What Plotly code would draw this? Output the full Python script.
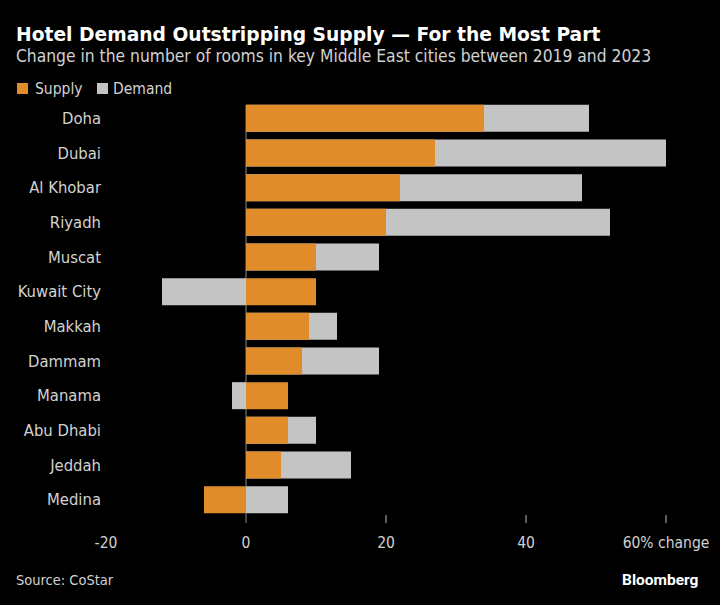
import plotly.graph_objects as go

cities = ["Doha", "Dubai", "Al Khobar", "Riyadh", "Muscat", "Kuwait City", "Makkah",
          "Dammam", "Manama", "Abu Dhabi", "Jeddah", "Medina"]
supply = [34, 27, 22, 20, 10, 10, 9, 8, 6, 6, 5, -6]
demand = [49, 60, 48, 52, 19, -12, 13, 19, -2, 10, 15, 6]
tick_vals = [-20, 0, 20, 40, 60]
tick_text = ["-20", "0", "20", "40", "60% change"]
tick_marks = [20, 40, 60]

ORANGE = "#E08C2B"
GRAY = "#C4C4C4"
FONT = "DejaVu Sans Condensed, Liberation Sans Narrow, sans-serif"
TXT = "#D2D2D2"

L, R, T, B = 106, 12, 101, 88
W, H = 720, 605
PW, PH = W - L - R, H - T - B


def px(x):
    return (x - L) / PW


def py(y):
    return (H - B - y) / PH


fig = go.Figure()
fig.add_trace(go.Bar(y=cities, x=demand, orientation="h", name="Demand",
                     marker=dict(color=GRAY, line=dict(width=0))))
fig.add_trace(go.Bar(y=cities, x=supply, orientation="h", name="Supply",
                     marker=dict(color=ORANGE, line=dict(width=0))))

# zero line (behind the bars, extends below as the 0 tick)
fig.add_shape(type="line", xref="x", yref="paper", x0=0, x1=0, y0=py(105), y1=py(523),
              line=dict(color="#8A8A8A", width=1), layer="below")
for t in tick_marks:
    fig.add_shape(type="line", xref="x", yref="paper", x0=t, x1=t, y0=py(515), y1=py(523),
                  line=dict(color="#BBBBBB", width=1))

fig.update_layout(
    width=W, height=H,
    paper_bgcolor="black", plot_bgcolor="black",
    barmode="overlay", bargap=0.22,
    margin=dict(l=L, r=R, t=T, b=B, autoexpand=False),
    font=dict(family=FONT, color=TXT, size=15),
    showlegend=False,
    xaxis=dict(range=[-20, 66], tickvals=tick_vals, ticktext=tick_text, ticks="",
               showgrid=False, zeroline=False,
               showline=False, tickfont=dict(size=15.5, color=TXT), ticklabelstandoff=14,
               fixedrange=True),
    yaxis=dict(categoryorder="array", categoryarray=cities, autorange="reversed",
               showgrid=False, zeroline=False, showline=False, ticks="",
               tickfont=dict(size=16.5, color=TXT), ticklabelstandoff=4),
)

# legend (custom, matching the reference's small swatches)
legend_items = [("Supply", ORANGE, 17, 35), ("Demand", GRAY, 97, 113)]
for name, col, sx, tx in legend_items:
    fig.add_shape(type="rect", xref="paper", yref="paper", x0=px(sx), x1=px(sx + 11),
                  y0=py(94), y1=py(83), fillcolor=col, line=dict(width=0))
    fig.add_annotation(text=name, xref="paper", yref="paper", x=px(tx - 2), y=py(88.5),
                       xanchor="left", yanchor="middle", showarrow=False,
                       font=dict(size=15.5, color=TXT, family=FONT))

fig.add_annotation(text="<b>Hotel Demand Outstripping Supply — For the Most Part</b>",
                   xref="paper", yref="paper", x=px(14), y=py(34),
                   xanchor="left", yanchor="middle", showarrow=False,
                   font=dict(size=18.7, color="white", family="DejaVu Sans, sans-serif"))
fig.add_annotation(text="Change in the number of rooms in key Middle East cities between 2019 and 2023",
                   xref="paper", yref="paper", x=px(14), y=py(55.5),
                   xanchor="left", yanchor="middle", showarrow=False,
                   font=dict(size=17.3, color=TXT, family=FONT))
fig.add_annotation(text="Source: CoStar", xref="paper", yref="paper", x=px(14),
                   y=py(580), xanchor="left", yanchor="middle", showarrow=False,
                   font=dict(size=14.5, color=TXT, family=FONT))
fig.add_annotation(text="<b>Bloomberg</b>", xref="paper", yref="paper", x=px(700),
                   y=py(580), xanchor="right", yanchor="middle", showarrow=False,
                   font=dict(size=15.5, color="white", family="Roboto, sans-serif"))

fig.write_html("out.html")
